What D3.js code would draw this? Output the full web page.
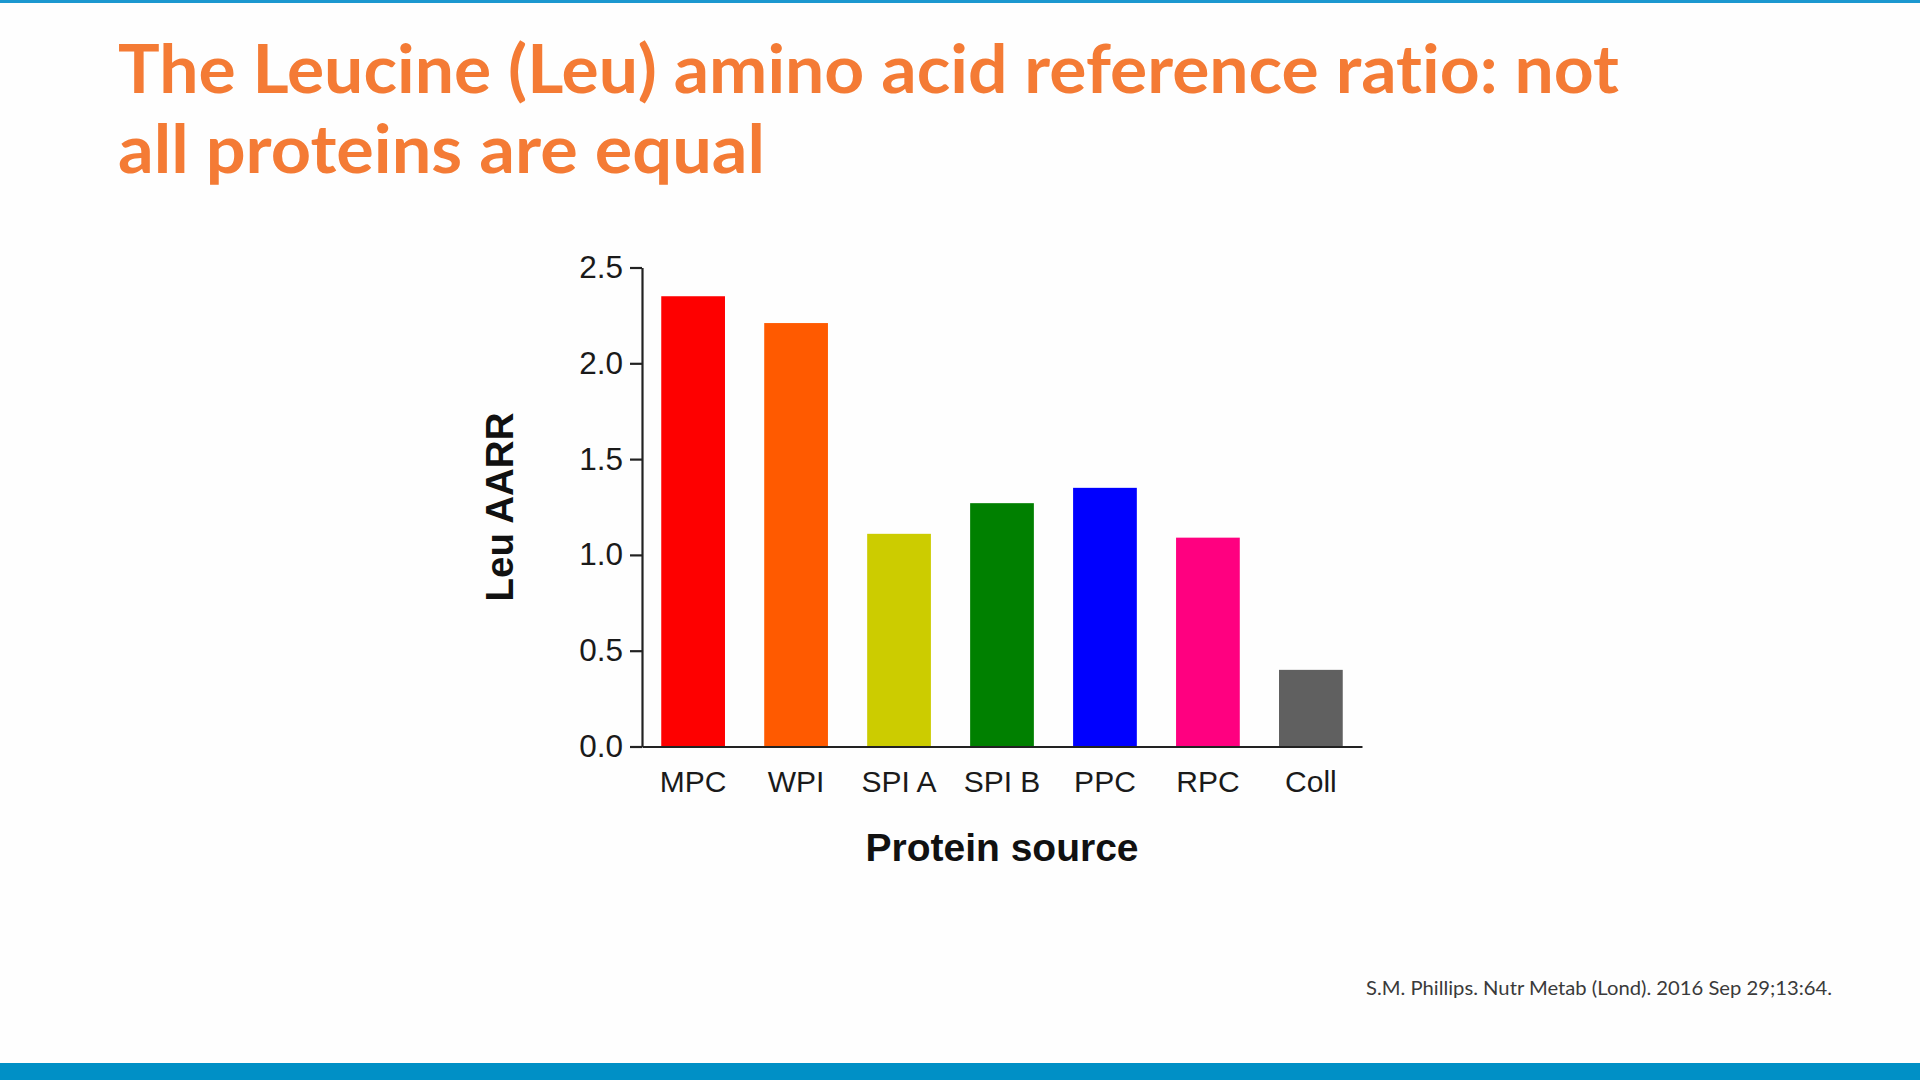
<!DOCTYPE html>
<html>
<head>
<meta charset="utf-8">
<script src="https://cdn.jsdelivr.net/npm/d3@7"></script>
<style>
  html, body { margin: 0; padding: 0; background: #ffffff; }
  svg { display: block; }
  text { font-variant-ligatures: none; font-feature-settings: "liga" 0, "clig" 0; }
</style>
</head>
<body>
<script>
// ---- data ----
const categories = ["MPC", "WPI", "SPI A", "SPI B", "PPC", "RPC", "Coll"];
const leuValues = [2.35, 2.21, 1.11, 1.27, 1.35, 1.09, 0.40];
const barColors = ["#fe0000", "#ff5a00", "#cccc00", "#008000", "#0000ff", "#ff0080", "#606060"];
const yTicks = [0.0, 0.5, 1.0, 1.5, 2.0, 2.5];
const titleLines = ["The Leucine (Leu) amino acid reference ratio: not", "all proteins are equal"];
const yTitle = "Leu AARR";
const xTitle = "Protein source";
const citation = "S.M. Phillips. Nutr Metab (Lond). 2016 Sep 29;13:64.";

const W = 1920, H = 1080;
const svg = d3.select("body").append("svg").attr("width", W).attr("height", H);

svg.append("rect").attr("x", 0).attr("y", 0).attr("width", W).attr("height", H).attr("fill", "#fefefe");
// top thin line and bottom band
svg.append("rect").attr("x", 0).attr("y", 0).attr("width", W).attr("height", 3).attr("fill", "#1b98d0");
svg.append("rect").attr("x", 0).attr("y", 1063).attr("width", W).attr("height", 17).attr("fill", "#0090c6");

// title
const titleFont = "Lato, 'Open Sans', sans-serif";
const titleY = [93, 173];
const titleW = [1501, 647];
titleLines.forEach((t, i) => {
  svg.append("text")
    .attr("x", 118).attr("y", titleY[i])
    .attr("font-family", titleFont).attr("font-weight", 700).attr("font-size", 67)
    .attr("fill", "#f47b35")
    .attr("textLength", titleW[i]).attr("lengthAdjust", "spacingAndGlyphs")
    .text(t);
});

// scales
const x = d3.scaleBand().domain(categories).range([642, 1362]).paddingInner(0.381).paddingOuter(0.187);
const y = d3.scaleLinear().domain([0, 2.5]).range([746.5, 267.5]);

const chartFont = "'Liberation Sans', Arial, sans-serif";

// bars
svg.append("g").selectAll("rect").data(categories).join("rect")
  .attr("x", d => x(d))
  .attr("width", x.bandwidth())
  .attr("y", (d, i) => y(leuValues[i]))
  .attr("height", (d, i) => y(0) - y(leuValues[i]))
  .attr("fill", (d, i) => barColors[i]);

// y axis
const yAxis = svg.append("g").attr("transform", "translate(642,0)")
  .call(d3.axisLeft(y).tickValues(yTicks).tickFormat(d3.format(".1f")).tickSize(12).tickSizeOuter(0).tickPadding(7));
yAxis.select(".domain").attr("stroke", "#222").attr("stroke-width", 2.2);
yAxis.selectAll(".tick line").attr("stroke", "#222").attr("stroke-width", 2.2);
yAxis.selectAll(".tick text").attr("font-family", chartFont).attr("font-size", 31.5).attr("fill", "#1a1a1a");

// x axis
const xAxis = svg.append("g").attr("transform", "translate(0,746.5)")
  .call(d3.axisBottom(x).tickSize(0).tickSizeOuter(0).tickPadding(24));
xAxis.select(".domain").attr("stroke", "#222").attr("stroke-width", 2.2);
xAxis.selectAll(".tick text").attr("font-family", chartFont).attr("font-size", 30).attr("fill", "#1a1a1a");

// axis titles
svg.append("text")
  .attr("transform", "translate(513,507) rotate(-90)")
  .attr("text-anchor", "middle")
  .attr("font-family", chartFont).attr("font-weight", 700).attr("font-size", 38.5)
  .attr("fill", "#111")
  .text(yTitle);

svg.append("text")
  .attr("x", 1002).attr("y", 861)
  .attr("text-anchor", "middle")
  .attr("font-family", chartFont).attr("font-weight", 700).attr("font-size", 39)
  .attr("fill", "#111")
  .text(xTitle);

// citation
svg.append("text")
  .attr("x", 1366).attr("y", 995)
  .attr("font-family", titleFont).attr("font-size", 20)
  .attr("fill", "#3a3a3a")
  .attr("textLength", 466).attr("lengthAdjust", "spacingAndGlyphs")
  .text(citation);
</script>
</body>
</html>
